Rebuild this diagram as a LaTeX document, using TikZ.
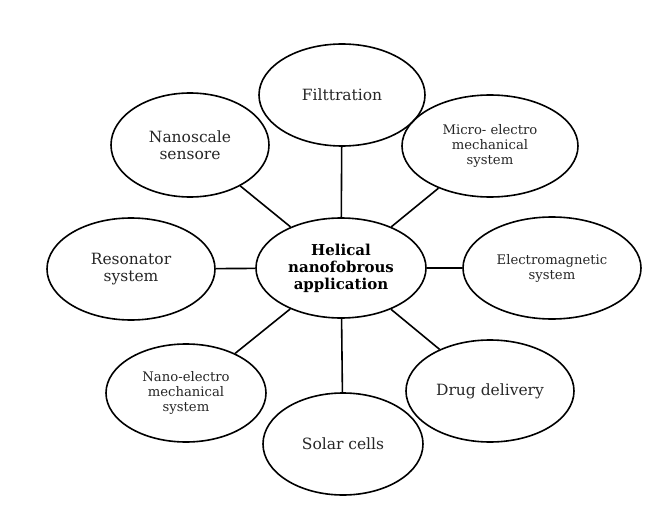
\documentclass[tikz,border=0pt]{standalone}
\usepackage{fontspec}
\setmainfont{DejaVu Serif}
\usetikzlibrary{shapes.geometric}
\begin{document}
\begin{tikzpicture}[x=1pt,y=-1pt,
  bubble/.style={ellipse,draw=black,line width=1.6pt,inner sep=0pt,align=center,
    text=black!85,font=\fontsize{15.5}{17.5}\selectfont},
  small/.style={font=\fontsize{13.2}{15}\selectfont},
  hub/.style={bubble,text=black,font=\bfseries\fontsize{15}{17}\selectfont},
  link/.style={line width=1.6pt,draw=black}]
\useasboundingbox (0,0) rectangle (659,511);
\node[hub,minimum width=170pt,minimum height=100pt] (c) at (341,268) {Helical\\nanofobrous\\application};
\node[bubble,minimum width=166pt,minimum height=102pt] (filt) at (342,95) {Filttration};
\node[bubble,minimum width=158pt,minimum height=104pt] (sens) at (190,145) {Nanoscale\\sensore};
\node[bubble,small,minimum width=176pt,minimum height=102pt] (mems) at (490,146) {Micro- electro\\mechanical\\system};
\node[bubble,minimum width=168pt,minimum height=102pt] (reso) at (131,269) {Resonator\\system};
\node[bubble,small,minimum width=178pt,minimum height=102pt] (emag) at (552,268) {Electromagnetic\\system};
\node[bubble,small,minimum width=160pt,minimum height=98pt] (nems) at (186,393) {Nano-electro\\mechanical\\system};
\node[bubble,minimum width=168pt,minimum height=102pt] (drug) at (490,391) {Drug delivery};
\node[bubble,minimum width=160pt,minimum height=102pt] (solar) at (343,444) {Solar cells};
\foreach \n in {filt,sens,mems,reso,emag,nems,drug,solar}
  \draw[link] (c) -- (\n);
\end{tikzpicture}
\end{document}
